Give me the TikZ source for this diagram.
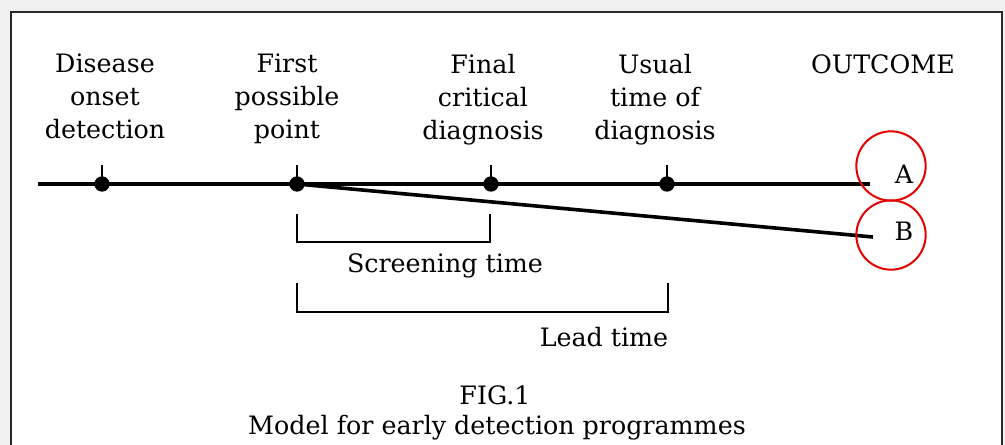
\documentclass[tikz,border=0pt]{standalone}
\usepackage{fontspec}
\setmainfont{DejaVu Serif}
\usetikzlibrary{positioning}

\definecolor{pagegray}{RGB}{240,240,240}
\definecolor{framegray}{RGB}{40,40,40}
\definecolor{ringred}{RGB}{230,0,0}

\tikzset{
  lbl/.style={anchor=north,align=center,inner sep=0.75pt,font=\fontsize{19}{24.75}\selectfont},
  txt/.style={inner sep=0.75pt,font=\fontsize{19}{24.75}\selectfont},
  evt/.style={circle,fill=black,inner sep=0pt,minimum size=11.5pt},
  ring/.style={circle,draw=ringred,line width=1.5pt,minimum size=52pt,inner sep=0pt},
  tline/.style={line width=2.7pt},
  brk/.style={line width=2pt,line join=miter},
}

\begin{document}
\begin{tikzpicture}[x=0.75pt,y=0.75pt,yscale=-1,xscale=1]
    \useasboundingbox (0,0) rectangle (1005,445);
    %Shape: Rectangle [page and frame]
    \fill [pagegray] (0,0) rectangle (1005,445);
    \fill [white] (11,12) rectangle (1002,445);
    \draw [framegray,line width=1.6pt] (11,445) -- (11,12) -- (1002,12) -- (1002,445);

    % Event dots
    \node [evt] (onset) at (102,184) {};
    \node [evt] (first) at (297,184) {};
    \node [evt] (final) at (491,184) {};
    \node [evt] (usual) at (667,184) {};
    \coordinate (lstart) at (38,184);
    \coordinate (aend) at (870,184);
    \coordinate (bend) at (873,237);

    %Shape: Lines [id:timeline]
    \draw [tline] (lstart) -- (aend);
    \draw [tline] (first.center) -- (bend);
    \foreach \p in {onset,first,final,usual}
      \draw [line width=1.8pt] (\p.center) -- ++(0,-19);

    %Shape: Brackets
    \draw [brk] (297,214) |- (490,242) -- (490,214);
    \draw [brk] (297,283) |- (668,312) -- (668,283);

    % Text Node
    \node [lbl] (lonset) at (105,53) {Disease\\onset\\detection};
    % Text Node
    \node [lbl] (lfirst) at (287,53) {First\\possible\\point};
    % Text Node
    \node [lbl] (lfinal) at (483,53) {Final\\critical\\diagnosis};
    % Text Node
    \node [lbl] (lusual) at (655,53) {Usual\\time of\\diagnosis};
    % Text Node
    \node [lbl] (outcome) at (883,53) {OUTCOME};

    % Outcomes
    \node [txt] (outA) at (904,174) {A};
    \node [txt] (outB) at (904,231) {B};
    \node [ring] (ringA) at (891,166) {};
    \node [ring] (ringB) at (891,235) {};

    % Text Node
    \node [txt] (screen) at (445,266) {Screening time};
    % Text Node
    \node [txt] (lead) at (604,337) {Lead time};
    % Text Node
    \node [txt] (fig) at (495,395) {FIG.1};
    % Text Node
    \node [txt] (caption) at (497,428) {Model for early detection programmes};
\end{tikzpicture}
\end{document}
